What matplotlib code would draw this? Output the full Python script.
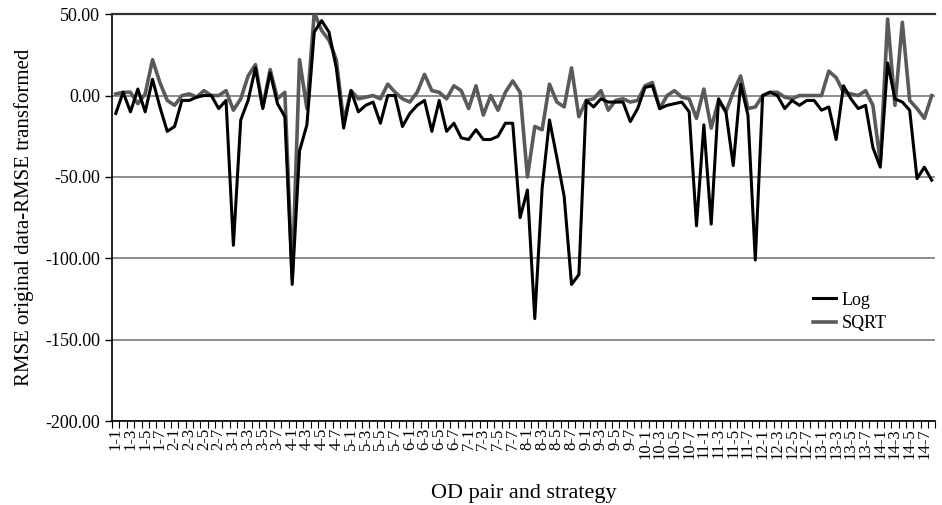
import numpy as np
import matplotlib
matplotlib.use("Agg")
import matplotlib.pyplot as plt
from matplotlib.ticker import FormatStrFormatter

# OD pairs 1..14, strategies 1..8
OD_PAIRS = list(range(1, 15))
STRATEGIES = list(range(1, 9))
categories = [f"{od}-{s}" for od in OD_PAIRS for s in STRATEGIES]

log_vals = [
    -11, 2, -10, 4, -10, 10, -7, -22,
    -19, -3, -3, -1, 0, 0, -8, -3,
    -92, -15, -3, 17, -8, 14, -5, -13,
    -116, -34, -18, 39, 46, 39, 17, -20,
    3, -10, -6, -4, -17, 0, 0, -19,
    -11, -6, -3, -22, -3, -22, -17, -26,
    -27, -21, -27, -27, -25, -17, -17, -75,
    -58, -137, -57, -15, -38, -62, -116, -110,
    -3, -7, -2, -4, -4, -4, -16, -8,
    5, 6, -8, -6, -5, -4, -10, -80,
    -18, -79, -2, -10, -43, 7, -12, -101,
    0, 2, 0, -8, -3, -6, -3, -3,
    -9, -7, -27, 6, -2, -8, -6, -32,
    -44, 20, -2, -4, -9, -51, -44, -52,
]
sqrt_vals = [
    1, 2, 2, -5, 1, 22, 8, -3,
    -6, 0, 1, -1, 3, 0, 0, 3,
    -9, -2, 12, 19, -7, 16, -2, 2,
    -112, 22, -8, 51, 40, 34, 22, -16,
    3, -2, -1, 0, -2, 7, 2, -2,
    -4, 2, 13, 3, 2, -2, 6, 3,
    -8, 6, -12, 0, -9, 2, 9, 2,
    -50, -19, -21, 7, -4, -7, 17, -13,
    -3, -2, 3, -9, -3, -2, -4, -3,
    6, 8, -8, 0, 3, -1, -2, -14,
    4, -20, -3, -10, 2, 12, -8, -7,
    0, 2, 2, -1, -2, 0, 0, 0,
    0, 15, 11, 2, 1, 0, 3, -6,
    -41, 47, -6, 45, -3, -8, -14, 0,
]

plt.rcParams["font.family"] = ["Liberation Serif", "DejaVu Serif"]

fig = plt.figure(figsize=(9.42, 5.05), dpi=100)
ax = fig.add_axes([0.119, 0.166, 0.874, 0.806])

x = np.arange(len(categories)) + 0.5
ax.plot(x, sqrt_vals, color="#5a5a5a", lw=2.6, label="SQRT", zorder=3)
ax.plot(x, log_vals, color="black", lw=2.2, label="Log", zorder=4)

ax.set_xlim(0, len(categories))
ax.set_ylim(-200, 50)
ax.set_yticks([-200, -150, -100, -50, 0, 50])
ax.yaxis.set_major_formatter(FormatStrFormatter("%.2f"))
ax.yaxis.grid(True, color="#7a7a7a", lw=1.2)
ax.set_axisbelow(True)

# category boundaries get the tick marks, every second category a label
ax.set_xticks(np.arange(len(categories) + 1))
ax.set_xticklabels([])
ax.set_xticks(x[::2], categories[::2], minor=True)
ax.tick_params(axis="x", which="minor", length=0, rotation=90, labelsize=12, pad=5)
ax.tick_params(axis="x", which="major", direction="out", length=5, width=0.8)
ax.tick_params(axis="y", direction="out", length=5, width=1.0, labelsize=13)

ax.spines["right"].set_visible(False)
ax.spines["top"].set_color("#333333")
ax.spines["top"].set_linewidth(1.6)
ax.spines["left"].set_linewidth(1.2)
ax.spines["bottom"].set_linewidth(1.2)

ax.set_xlabel("OD pair and strategy", fontsize=16, labelpad=18)
ax.set_ylabel("RMSE original data-RMSE transformed", fontsize=15, labelpad=8)

h, l = ax.get_legend_handles_labels()
ax.legend(h[::-1], l[::-1], loc="upper left", bbox_to_anchor=(0.84, 0.34),
          frameon=False, fontsize=13, handlelength=1.3, handletextpad=0.3,
          labelspacing=0.35, borderpad=0)

fig.savefig("out.png", dpi=100)
